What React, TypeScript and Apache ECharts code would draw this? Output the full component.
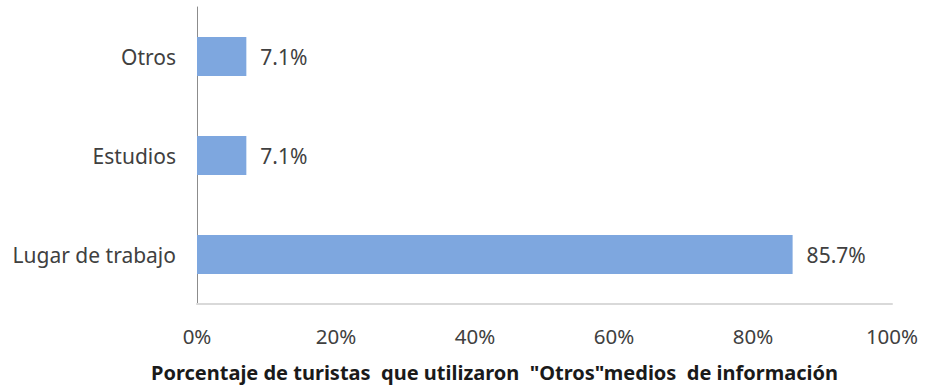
import React, { useEffect, useRef } from "react";
import * as echarts from "echarts";

const categories = ["Lugar de trabajo", "Estudios", "Otros"];
const values = [85.7, 7.1, 7.1];
const xTicks = [0, 20, 40, 60, 80, 100];
const axisTitle = 'Porcentaje de turistas  que utilizaron  "Otros"medios  de información';

export default function App() {
  const ref = useRef<HTMLDivElement>(null);
  useEffect(() => {
    const chart = echarts.init(ref.current!, null, { renderer: "svg" });
    chart.setOption({
      animation: false,
      backgroundColor: "#ffffff",
      grid: { left: 197, right: 36, top: 7, height: 297, containLabel: false },
      title: {
        text: axisTitle,
        left: 146,
        top: 357,
        textStyle: { fontFamily: "Noto Sans", fontSize: 20, fontWeight: "bold", color: "#1a1a1a" },
      },
      xAxis: {
        type: "value",
        min: xTicks[0],
        max: xTicks[xTicks.length - 1],
        interval: 20,
        axisLine: { show: true, lineStyle: { color: "#d9d9d9", width: 2 } },
        axisTick: { show: false },
        splitLine: { show: false },
        axisLabel: {
          formatter: (v: number) => v + "%",
          fontFamily: "Noto Sans",
          fontSize: 20.5,
          color: "#404040",
          margin: 21,
        },
      },
      yAxis: {
        type: "category",
        data: categories,
        axisLine: { show: true, lineStyle: { color: "#8c8c8c", width: 1 } },
        axisTick: { show: false },
        axisLabel: {
          fontFamily: "Noto Sans",
          fontSize: 21,
          color: "#404040",
          margin: 21,
        },
      },
      series: [
        {
          type: "bar",
          data: values,
          barWidth: 39,
          itemStyle: { color: "#7ea7df" },
          label: {
            show: true,
            position: "right",
            distance: 14,
            formatter: (p: any) => p.value.toFixed(1) + "%",
            fontFamily: "Noto Sans",
            fontSize: 21,
            color: "#404040",
          },
        },
      ],
    });
    return () => chart.dispose();
  }, []);
  return <div ref={ref} style={{ width: 928, height: 392, position: "absolute", left: 0, top: 0 }} />;
}
